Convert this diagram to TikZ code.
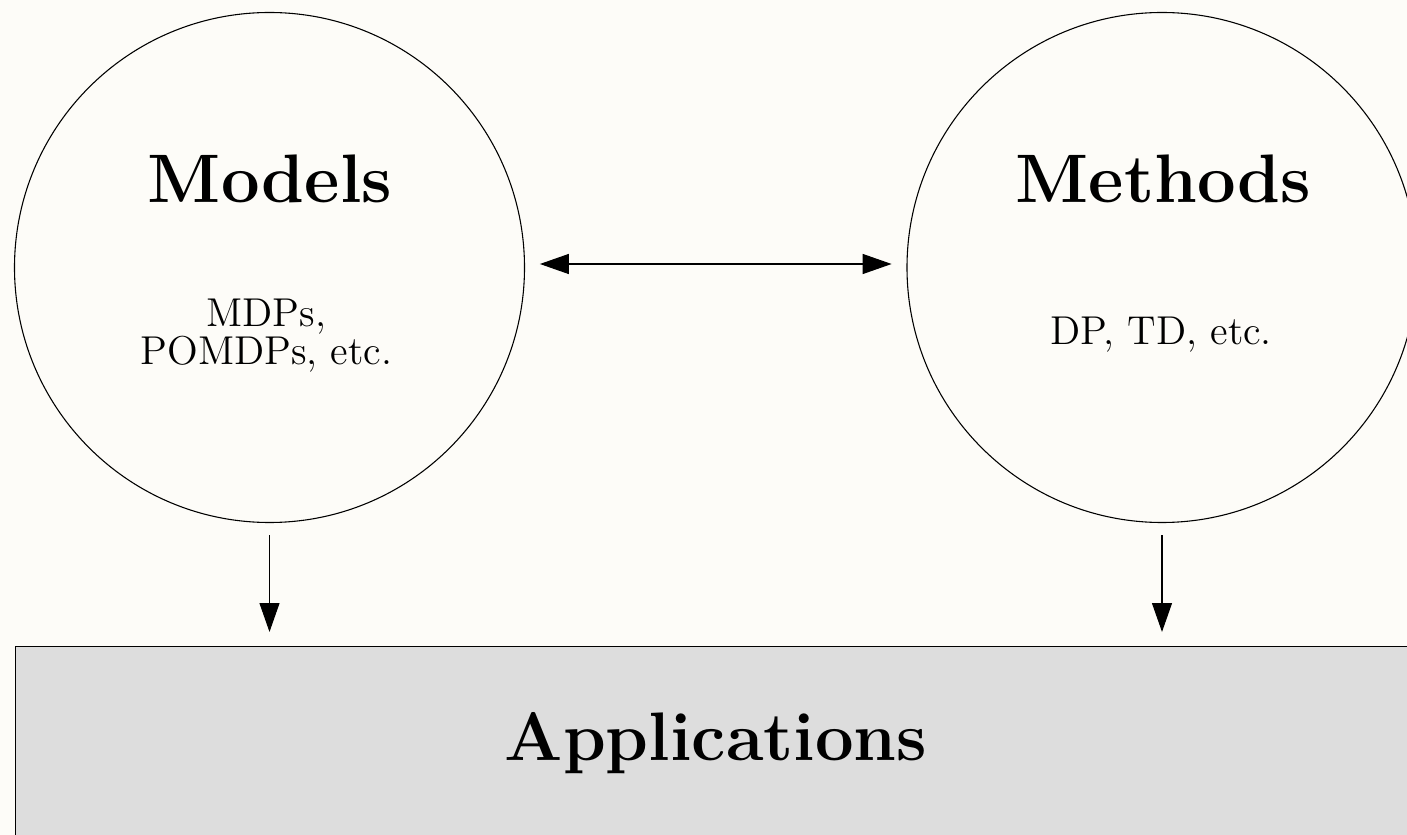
\documentclass[tikz,border=0pt]{standalone}
\usetikzlibrary{arrows.meta,calc}
\definecolor{bgcol}{RGB}{253,252,248}
\definecolor{appgray}{RGB}{221,221,221}
\begin{document}
\begin{tikzpicture}[x=0.37pt,y=-0.37pt,
  bigcircle/.style={circle,draw,line width=0.4pt,inner sep=0pt,minimum size=188.7pt},
  title/.style={font={\fontsize{25.4pt}{30pt}\selectfont\bfseries},anchor=base,inner sep=0pt},
  sub/.style={font={\fontsize{14.9pt}{17pt}\selectfont},anchor=base,inner sep=0pt},
  conn/.style={line width=0.4pt,-{Triangle[length=10.7pt,width=7.4pt]}},
  dconn/.style={line width=0.4pt,{Triangle[length=10.7pt,width=7.4pt]}-{Triangle[length=10.7pt,width=7.4pt]}}
]
\fill[bgcol] (0,0) rectangle (1407,835);
\useasboundingbox (0,0) rectangle (1407,835);
\clip (0,0) rectangle (1407,835);
\node[bigcircle] (ml) at (269.5,267.5) {};
\node[bigcircle] (mt) at (1162,267.5) {};
\node[draw,line width=0.5pt,fill=appgray,anchor=north west,inner sep=0pt,
      minimum width=519pt,minimum height=75pt] (app) at (14.5,646) {};
\node[title] (tmodels) at (270,203) {Models};
\node[title] (tmethods) at (1163.5,203) {Methods};
\node[sub] (s1) at (266.5,327) {MDPs,};
\node[sub] (s2) at (266.5,365) {POMDPs, etc.};
\node[sub] (s3) at (1161,345) {DP, TD, etc.};
\node[title] (tapp) at (716,760) {Applications};
\draw[dconn,shorten <=5.5pt,shorten >=5.5pt] ($(ml.east)+(0,-3.5)$) -- ($(mt.west)+(0,-3.5)$);
\draw[conn,shorten <=4.6pt,shorten >=5.2pt] (ml.south) -- (ml.south |- app.north);
\draw[conn,shorten <=4.6pt,shorten >=5.2pt] (mt.south) -- (mt.south |- app.north);
\end{tikzpicture}
\end{document}
